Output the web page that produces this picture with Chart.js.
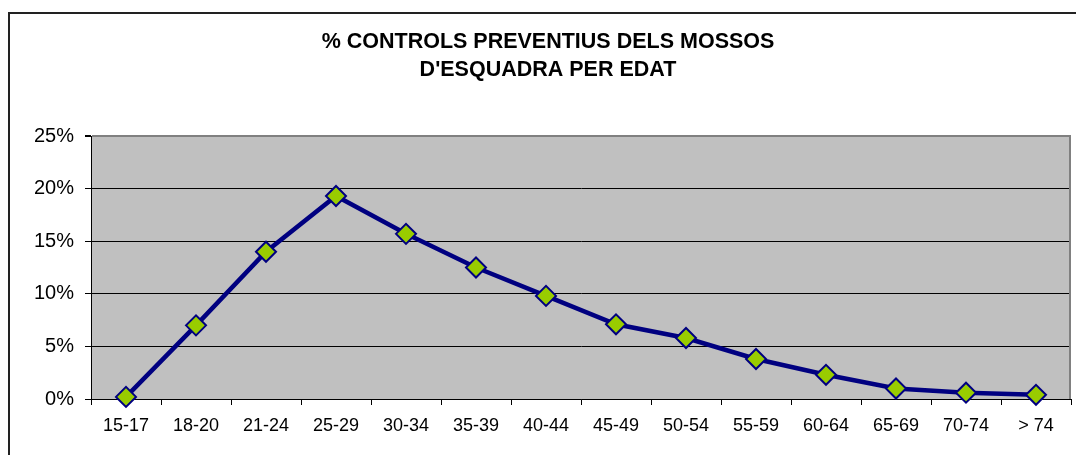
<!DOCTYPE html>
<html>
<head>
<meta charset="utf-8">
<script src="https://cdn.jsdelivr.net/npm/chart.js@4"></script>
<style>
  html, body { margin: 0; padding: 0; background: #fff; overflow: hidden; }
  #wrap { position: relative; width: 1076px; height: 455px; }
  #frame { position: absolute; left: 8px; top: 12px; width: 1100px; height: 500px; border: 2px solid #222; box-sizing: border-box; pointer-events: none; }
  canvas { position: absolute; left: 0; top: 0; }
</style>
</head>
<body>
<div id="wrap">
  <div id="frame"></div>
  <canvas id="c" width="1076" height="455"></canvas>
</div>
<script>
const categories = ['15-17','18-20','21-24','25-29','30-34','35-39','40-44','45-49','50-54','55-59','60-64','65-69','70-74','> 74'];
const values = [0.2, 7.0, 14.0, 19.3, 15.7, 12.5, 9.8, 7.1, 5.8, 3.8, 2.3, 1.0, 0.6, 0.4];
const titleLines = ['% CONTROLS PREVENTIUS DELS MOSSOS', "D'ESQUADRA PER EDAT"];
const yMin = 0, yMax = 25, yStep = 5;

const plotBg = {
  id: 'plotBg',
  beforeDraw(chart) {
    const {ctx, chartArea: a} = chart;
    ctx.save();
    ctx.fillStyle = '#C0C0C0';
    ctx.fillRect(a.left, a.top, a.right - a.left, a.bottom - a.top);
    ctx.restore();
  },
  beforeDatasetsDraw(chart) {
    const {ctx, chartArea: a} = chart;
    ctx.save();
    ctx.strokeStyle = '#808080';
    ctx.lineWidth = 2;
    ctx.beginPath();
    ctx.moveTo(a.right - 1, a.top);
    ctx.lineTo(a.right - 1, a.bottom);
    ctx.stroke();
    ctx.restore();
  },
  afterDraw(chart) {
    const {ctx} = chart;
    ctx.save();
    ctx.fillStyle = '#000';
    ctx.font = 'bold 21.5px "Liberation Sans", Arial, sans-serif';
    ctx.textAlign = 'center';
    ctx.textBaseline = 'middle';
    titleLines.forEach((t, i) => ctx.fillText(t, 548, 42 + i * 28));
    ctx.restore();
  }
};

new Chart(document.getElementById('c'), {
  type: 'line',
  data: {
    labels: categories,
    datasets: [{
      data: values,
      borderColor: '#000080',
      borderWidth: 4.5,
      tension: 0,
      pointStyle: 'rectRot',
      pointRadius: 10,
      pointBackgroundColor: '#99CC00',
      pointBorderColor: '#000080',
      pointBorderWidth: 2,
      clip: false
    }]
  },
  options: {
    responsive: false,
    animation: false,
    devicePixelRatio: 1,
    layout: { autoPadding: false, padding: { left: 0, right: 5, top: 136, bottom: 0 } },
    plugins: {
      legend: { display: false },
      tooltip: { enabled: false },
      title: { display: false }
    },
    scales: {
      x: {
        offset: true,
        afterFit(s) { s.height = 56; },
        grid: { offset: true, drawOnChartArea: false, color: '#000', tickLength: 6, tickColor: '#000' },
        border: { color: '#000', width: 1 },
        ticks: { color: '#000', padding: 10, maxRotation: 0, autoSkip: false,
          font: { family: 'Liberation Sans, Arial, sans-serif', size: 18 } }
      },
      y: {
        min: yMin, max: yMax,
        afterFit(s) { s.width = 91; },
        grid: {
          color: (c) => (c.tick && c.tick.value === yMax) ? '#808080' : '#000',
          lineWidth: (c) => (c.tick && c.tick.value === yMax) ? 2 : 1,
          tickLength: 6, tickColor: '#000'
        },
        border: { color: '#000', width: 1 },
        ticks: { stepSize: yStep, color: '#000', padding: 11,
          font: { family: 'Liberation Sans, Arial, sans-serif', size: 20 },
          callback: (v) => v + '%' }
      }
    }
  },
  plugins: [plotBg]
});
</script>
</body>
</html>
